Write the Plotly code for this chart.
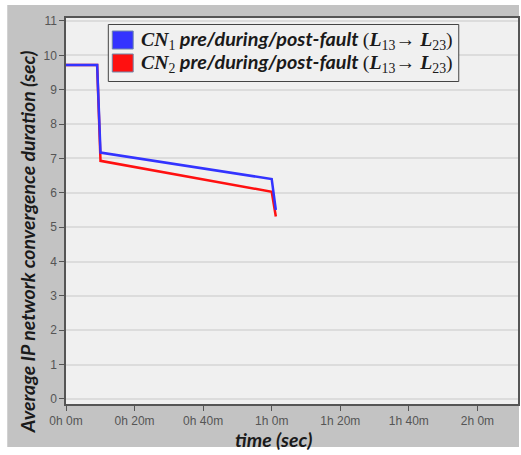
import plotly.graph_objects as go

# data (time in seconds)
time_s = [0, 545, 604, 3600, 3672]
cn1 = [9.72, 9.72, 7.17, 6.40, 5.50]
cn2 = [9.72, 9.72, 6.93, 6.03, 5.31]
tick_vals = [0, 1200, 2400, 3600, 4800, 6000, 7200]
tick_text = ["0h 0m", "0h 20m", "0h 40m", "1h 0m", "1h 20m", "1h 40m", "2h 0m"]
y_ticks = list(range(0, 12))

BLUE = "#3333ff"
RED = "#ff1010"

def label(n):
    serif = "font-family:'Liberation Serif'"
    return (f"<span style=\"{serif}\"><b><i>CN</i></b><sub>{n}</sub></span>"
            f"<b><i> pre/during/post-fault </i></b>"
            f"<span style=\"{serif}\">(<b><i>L</i></b><sub>13</sub>→ <b><i>L</i></b><sub>23</sub>)</span>")

series = [(label(2), cn2, RED), (label(1), cn1, BLUE)]

fig = go.Figure()
for name, vals, col in series:
    fig.add_trace(go.Scatter(x=time_s, y=vals, mode="lines", name=name,
                             line=dict(color=col, width=2.5),
                             showlegend=False, hoverinfo="skip"))

L, R, T, B = 66, 1, 18, 51
W, H = 521, 455
pw, ph = W - L - R, H - T - B

def px(x):
    return (x - L) / pw

def py(y):
    return (H - B - y) / ph

shapes = [dict(type="rect", xref="paper", yref="paper",
               x0=px(7), x1=px(521), y0=py(447), y1=py(5),
               fillcolor="#c3c3c3", line=dict(width=0), layer="below"),
          dict(type="rect", xref="paper", yref="paper",
               x0=0, x1=1, y0=0, y1=1,
               fillcolor="#f0f0f0", line=dict(width=0), layer="below"),
          # legend box
          dict(type="rect", xref="paper", yref="paper",
               x0=px(108.5), x1=px(460.5), y0=py(81.5), y1=py(24.5),
               fillcolor="#f0f0f0", line=dict(color="#444444", width=1), layer="above")]
annotations = [
    dict(text="<b><i>time (sec)</i></b>", xref="paper", yref="paper",
         x=px(274), y=py(439), xanchor="center", yanchor="middle", showarrow=False,
         font=dict(family="Lato", size=19.5, color="#1a1a1a")),
    dict(text="<b><i>Average IP network convergence duration (sec)</i></b>",
         xref="paper", yref="paper", x=px(27), y=py(242), xanchor="center",
         yanchor="middle", showarrow=False, textangle=-90,
         font=dict(family="Lato", size=19.5, color="#1a1a1a")),
]
# legend rows (CN1 first)
legend_rows = [(label(1), BLUE, 40), (label(2), RED, 63)]
for text, col, yc in legend_rows:
    shapes.append(dict(type="rect", xref="paper", yref="paper",
                       x0=px(112.5), x1=px(133.5), y0=py(yc + 9), y1=py(yc - 9),
                       fillcolor=col, line=dict(color="#7088aa", width=1), layer="above"))
    annotations.append(dict(text=text, xref="paper", yref="paper", x=px(139), y=py(yc),
                            xanchor="left", yanchor="middle", showarrow=False,
                            font=dict(family="Lato", size=19.8, color="#1a1a1a")))

fig.update_layout(
    width=W, height=H,
    margin=dict(l=L, r=R, t=T, b=B, pad=0),
    paper_bgcolor="white",
    plot_bgcolor="#f0f0f0",
    font=dict(family="Liberation Sans", size=12, color="#555555"),
    showlegend=False,
    shapes=shapes,
    annotations=annotations,
)
fig.update_xaxes(range=[0, 7910], tickvals=tick_vals, ticktext=tick_text,
                 showgrid=False, zeroline=False, showline=True, linecolor="#555555",
                 linewidth=1.5, mirror=True, ticks="outside", ticklen=5,
                 tickcolor="#555555", tickfont=dict(color="#555555", size=12))
fig.update_yaxes(range=[-0.146, 11.087], tickvals=y_ticks,
                 showgrid=True, gridcolor="#dcdcdc", gridwidth=1.5, zeroline=False,
                 showline=True, linecolor="#555555", linewidth=1.5, mirror=True,
                 ticks="outside", ticklen=5, tickcolor="#555555",
                 tickfont=dict(color="#555555", size=12))

fig.write_html("out.html")
